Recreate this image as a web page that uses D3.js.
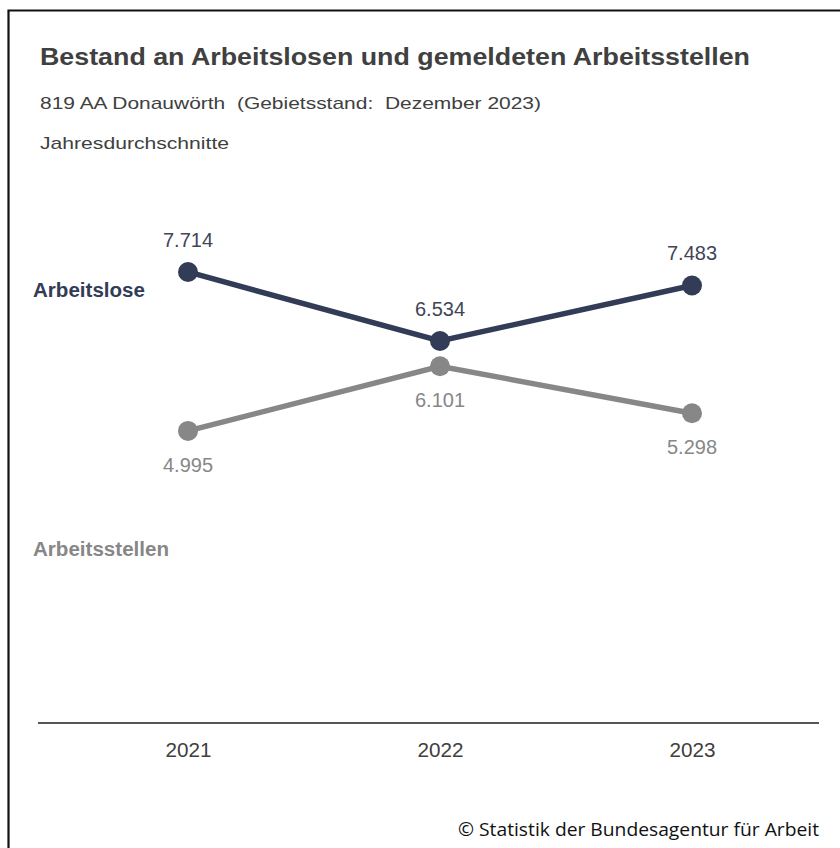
<!DOCTYPE html>
<html><head><meta charset="utf-8">
<script src="https://cdn.jsdelivr.net/npm/d3@7"></script>
<style>html,body{margin:0;padding:0;background:#fff;}</style>
</head><body>
<script>
const years = ["2021", "2022", "2023"];
const arbeitslose = [7714, 6534, 7483];
const arbeitsstellen = [4995, 6101, 5298];
const seriesNames = ["Arbeitslose", "Arbeitsstellen"];
const seriesColors = ["#323c57", "#878787"];
const title = "Bestand an Arbeitslosen und gemeldeten Arbeitsstellen";
const subtitle = "819 AA Donauwörth  (Gebietsstand:  Dezember 2023)";
const subtitle2 = "Jahresdurchschnitte";
const source = "© Statistik der Bundesagentur für Arbeit";

const W = 840, H = 848;
const svg = d3.select("body").append("svg").attr("width", W).attr("height", H)
  .style("font-family", "'Liberation Sans', Arial, sans-serif");

svg.append("rect").attr("width", W).attr("height", H).attr("fill", "#fff");
// frame (left and top edges visible)
svg.append("path").attr("d", "M8.5,848 V10.5 H840").attr("fill", "none").attr("stroke", "#111").attr("stroke-width", 2.2);

svg.append("text").attr("x", 40).attr("y", 65).attr("font-size", 23).attr("font-weight", "bold")
  .attr("fill", "#404040").attr("textLength", 710).attr("lengthAdjust", "spacingAndGlyphs").text(title);
svg.append("text").attr("x", 40).attr("y", 109).attr("font-size", 17).attr("fill", "#404040")
  .style("white-space", "pre")
  .attr("textLength", 501).attr("lengthAdjust", "spacingAndGlyphs").text(subtitle);
svg.append("text").attr("x", 40).attr("y", 149).attr("font-size", 17).attr("fill", "#404040")
  .attr("textLength", 189).attr("lengthAdjust", "spacingAndGlyphs").text(subtitle2);

const x = d3.scalePoint().domain(years).range([188, 692]);
const y = d3.scaleLinear().domain([0, 10000]).range([723, 138.3]);

// axis
const axis = d3.axisBottom(x).tickSize(0).tickPadding(20);
const gAx = svg.append("g").attr("transform", "translate(0,723)").call(axis);
gAx.select(".domain").remove();
gAx.append("line").attr("x1", 38).attr("x2", 819).attr("stroke", "#555").attr("stroke-width", 2);
gAx.selectAll(".tick text").attr("font-size", 20).attr("fill", "#404040")
  .attr("font-family", "'Liberation Sans', Arial, sans-serif").attr("dy", "0.71em")
  .attr("textLength", 46).attr("lengthAdjust", "spacingAndGlyphs");

const data = [arbeitslose, arbeitsstellen];
const line = d3.line().x((d, i) => x(years[i])).y(d => y(d));

data.forEach((vals, s) => {
  const g = svg.append("g");
  g.append("path").datum(vals).attr("d", line).attr("fill", "none")
    .attr("stroke", seriesColors[s]).attr("stroke-width", 5.5);
  g.selectAll("circle").data(vals).join("circle")
    .attr("cx", (d, i) => x(years[i])).attr("cy", d => y(d)).attr("r", 10)
    .attr("fill", seriesColors[s]);
});

// value labels: above for upper series, below for lower one
const fmt = v => d3.format(",")(v).replace(/,/g, ".");
data.forEach((vals, s) => {
  svg.append("g").selectAll("text").data(vals).join("text")
    .attr("x", (d, i) => x(years[i]))
    .attr("y", d => y(d) + (s === 0 ? -25 : 41))
    .attr("text-anchor", "middle").attr("font-size", 20)
    .attr("fill", s === 0 ? "#404656" : "#878787").text(d => fmt(d));
});

// series labels
svg.append("text").attr("x", 33).attr("y", 297).attr("font-size", 20).attr("font-weight", "bold")
  .attr("fill", seriesColors[0]).attr("textLength", 112).attr("lengthAdjust", "spacingAndGlyphs").text(seriesNames[0]);
svg.append("text").attr("x", 33).attr("y", 556).attr("font-size", 20).attr("font-weight", "bold")
  .attr("fill", seriesColors[1]).attr("textLength", 136).attr("lengthAdjust", "spacingAndGlyphs").text(seriesNames[1]);

svg.append("text").attr("x", 819).attr("y", 836).attr("text-anchor", "end").attr("font-size", 18)
  .attr("font-family", "'Open Sans', sans-serif").attr("fill", "#111")
  .attr("textLength", 361).attr("lengthAdjust", "spacingAndGlyphs").text(source);
</script>
</body></html>
